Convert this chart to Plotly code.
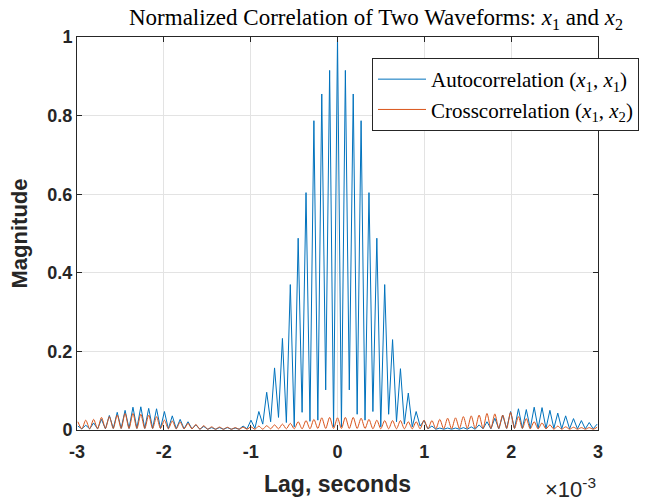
import numpy as np
import plotly.graph_objects as go

# ---- data ----
PERIOD_MS = 0.0906                      # spacing of the oscillation peaks (ms)
PEAK_INDEX = list(range(-33, 34))       # peak numbers, lag = index * period

auto_peaks = [
    0.010, 0.012, 0.018, 0.027, 0.037, 0.045, 0.050, 0.058, 0.059, 0.055,
    0.054, 0.047, 0.036, 0.027, 0.021, 0.013, 0.009, 0.006, 0.006, 0.006,
    0.005, 0.010, 0.025, 0.047, 0.096, 0.158, 0.233, 0.370, 0.488, 0.604,
    0.787, 0.855, 0.915, 1.000, 0.915, 0.855, 0.787, 0.604, 0.488, 0.370,
    0.230, 0.156, 0.094, 0.047, 0.024, 0.010, 0.005, 0.005, 0.005, 0.006,
    0.008, 0.013, 0.021, 0.030, 0.038, 0.047, 0.054, 0.052, 0.058, 0.057,
    0.050, 0.043, 0.036, 0.029, 0.024, 0.019, 0.015,
]
auto_troughs = [
    0.003, 0.003, 0.003, 0.003, 0.004, 0.004, 0.004, 0.004, 0.004, 0.004,
    0.004, 0.003, 0.003, 0.003, 0.003, 0.002, 0.002, 0.002, 0.002, 0.002,
    0.002, 0.003, 0.004, 0.015, 0.021, 0.032, 0.019, 0.008, 0.045, 0.022,
    0.025, 0.102, 0.008, 0.008, 0.102, 0.040, 0.025, 0.047, 0.008, 0.040,
    0.021, 0.015, 0.008, 0.010, 0.003, 0.002, 0.002, 0.002, 0.002, 0.002,
    0.002, 0.003, 0.003, 0.003, 0.004, 0.004, 0.004, 0.004, 0.004, 0.004,
    0.004, 0.003, 0.003, 0.003, 0.003, 0.003,
]
cross_peaks = [
    0.021, 0.025, 0.027, 0.032, 0.034, 0.038, 0.042, 0.042, 0.040, 0.038,
    0.034, 0.025, 0.023, 0.020, 0.017, 0.014, 0.011, 0.008, 0.0075, 0.007,
    0.006, 0.007, 0.008, 0.010, 0.011, 0.013, 0.015, 0.017, 0.021, 0.024,
    0.027, 0.031, 0.032, 0.031, 0.032, 0.032, 0.030, 0.027, 0.025, 0.024,
    0.024, 0.024, 0.021, 0.021, 0.025, 0.024, 0.027, 0.030, 0.031, 0.034,
    0.036, 0.038, 0.042, 0.041, 0.038, 0.045, 0.034, 0.029, 0.021, 0.018,
    0.013, 0.010, 0.008, 0.007, 0.006, 0.006, 0.007,
]
cross_troughs = [
    0.003, 0.003, 0.003, 0.004, 0.004, 0.004, 0.004, 0.004, 0.004, 0.004,
    0.004, 0.003, 0.003, 0.003, 0.003, 0.002, 0.002, 0.002, 0.002, 0.002,
    0.002, 0.002, 0.002, 0.002, 0.003, 0.003, 0.003, 0.003, 0.003, 0.003,
    0.004, 0.004, 0.004, 0.004, 0.004, 0.004, 0.004, 0.003, 0.003, 0.003,
    0.003, 0.003, 0.003, 0.003, 0.003, 0.003, 0.003, 0.003, 0.004, 0.004,
    0.004, 0.004, 0.004, 0.004, 0.004, 0.004, 0.004, 0.003, 0.003, 0.003,
    0.002, 0.002, 0.002, 0.002, 0.002, 0.002,
]

x_tick_vals = [-3, -2, -1, 0, 1, 2, 3]
x_tick_text = ["-3", "-2", "-1", "0", "1", "2", "3"]
y_tick_vals = [0, 0.2, 0.4, 0.6, 0.8, 1]
y_tick_text = ["0", "0.2", "0.4", "0.6", "0.8", "1"]


def interleave(peaks, troughs):
    lags, vals = [], []
    for i, k in enumerate(PEAK_INDEX):
        lags.append(k * PERIOD_MS)
        vals.append(peaks[i])
        if i < len(troughs):
            lags.append((k + 0.5) * PERIOD_MS)
            vals.append(troughs[i])
    return lags, vals


ax_lag, ax_val = interleave(auto_peaks, auto_troughs)
cx_lag, cx_val = interleave(cross_peaks, cross_troughs)

BLUE = "#0072BD"
ORANGE = "#D95319"
AXC = "#262626"
SANS = "Liberation Sans, Arial, sans-serif"
SERIF = "Liberation Serif, Times New Roman, serif"

W, H = 647, 502
L, R, T, B = 77, 598, 37, 430          # plot-area edges in pixels
PW, PH = R - L, B - T

fig = go.Figure()
fig.add_trace(go.Scatter(
    x=ax_lag, y=ax_val, mode="lines",
    line=dict(color=BLUE, width=1),
    name="Autocorrelation (<i>x</i><sub>1</sub>, <i>x</i><sub>1</sub>)"))
fig.add_trace(go.Scatter(
    x=cx_lag, y=cx_val, mode="lines",
    line=dict(color=ORANGE, width=1, shape="spline", smoothing=0.8),
    name="Crosscorrelation (<i>x</i><sub>1</sub>, <i>x</i><sub>2</sub>)"))

axis_common = dict(
    showgrid=True, gridcolor="#e3e3e3", gridwidth=1,
    showline=True, linecolor=AXC, linewidth=1, mirror="ticks",
    ticks="inside", ticklen=5, tickcolor=AXC, tickwidth=1,
    zeroline=False,
    tickfont=dict(family=SANS, size=18, color=AXC, weight="bold"),
)

fig.update_layout(
    width=W, height=H,
    margin=dict(l=L, r=W - R, t=T, b=H - B, autoexpand=False),
    paper_bgcolor="white", plot_bgcolor="white",
    title=dict(
        text="Normalized Correlation of Two Waveforms: <i>x</i><sub>1</sub> and <i>x</i><sub>2</sub>",
        x=376 / W, xref="container", xanchor="center",
        y=1 - 17 / H, yref="container", yanchor="middle",
        font=dict(family=SERIF, size=23, color="black"),
    ),
    xaxis=dict(range=[-3, 3], tickvals=x_tick_vals, ticktext=x_tick_text,
               ticklabelstandoff=5, **axis_common),
    yaxis=dict(range=[0, 1], tickvals=y_tick_vals, ticktext=y_tick_text, **axis_common),
    showlegend=True,
    legend=dict(
        x=(372 - L) / PW, y=1 - (58 - T) / PH, xanchor="left", yanchor="top",
        bgcolor="white", bordercolor=AXC, borderwidth=1,
        font=dict(family=SERIF, size=21, color="black"),
        itemwidth=48, tracegroupgap=0,
    ),
    annotations=[
        dict(text="<b>Lag, seconds</b>", xref="paper", yref="paper",
             x=0.5, y=-(484 - B) / PH, xanchor="center", yanchor="middle",
             showarrow=False, font=dict(family=SANS, size=23, color=AXC)),
        dict(text="<b>Magnitude</b>", xref="paper", yref="paper",
             x=(19 - L) / PW, y=0.5, xanchor="center", yanchor="middle",
             textangle=-90, showarrow=False,
             font=dict(family=SANS, size=22, color=AXC)),
        dict(text="×10<sup>-3</sup>", xref="paper", yref="paper",
             x=1.0, y=-(488 - B) / PH, xanchor="right", yanchor="middle",
             showarrow=False, font=dict(family=SANS, size=22, color=AXC)),
    ],
)

fig.write_html(
    "out.html",
    config={"displayModeBar": False},
    post_script="document.body.style.margin='0';document.body.style.overflow='hidden';",
)
